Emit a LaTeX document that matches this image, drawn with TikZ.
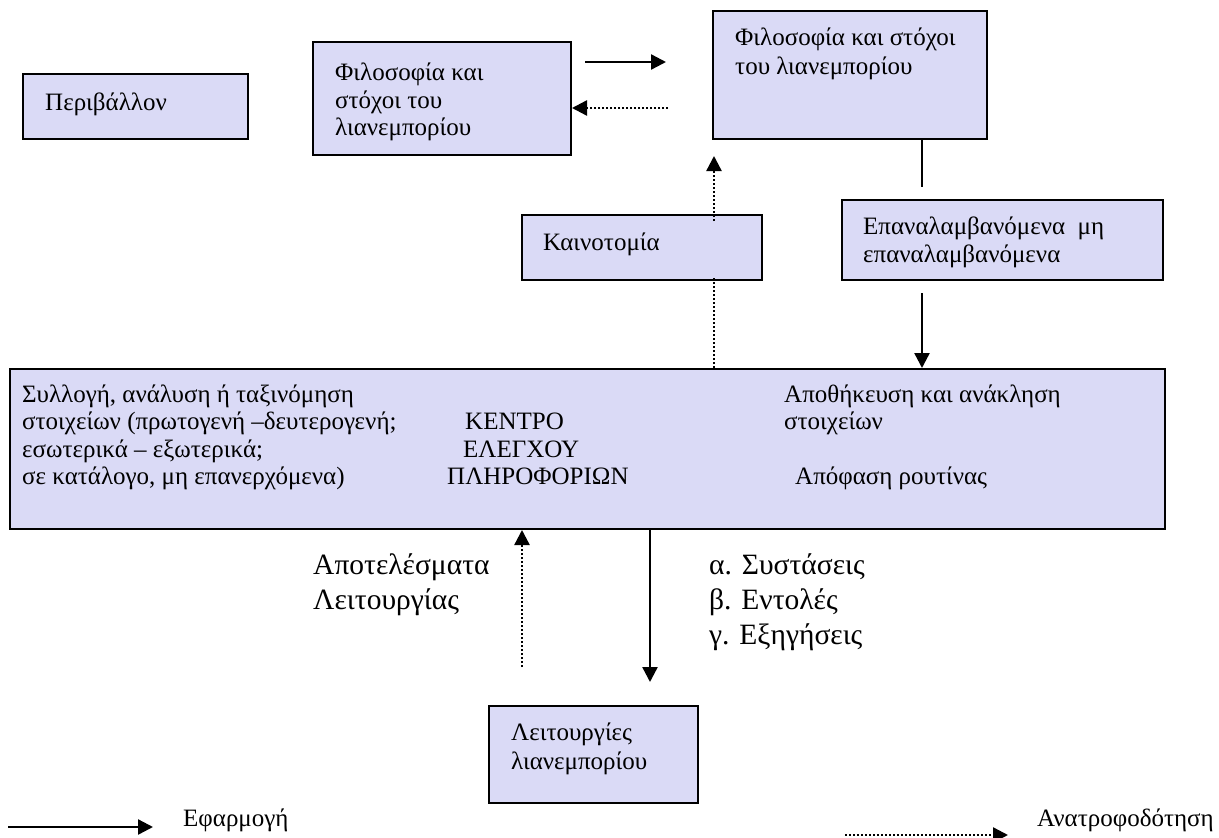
\documentclass[tikz,border=0pt]{standalone}
\usepackage{fontspec}
\setmainfont{Liberation Serif}
\usetikzlibrary{arrows.meta}
\definecolor{boxfill}{RGB}{218,218,246}
\begin{document}
\begin{tikzpicture}[x=1pt,y=-1pt,
  box/.style={draw=black, fill=boxfill, line width=2pt, rectangle, inner sep=0pt},
  txt/.style={font=\fontsize{25}{29}\selectfont, inner sep=0pt, anchor=base west},
  big/.style={font=\fontsize{29.5}{33}\selectfont, inner sep=0pt, anchor=base west},
  tip/.style={-{Triangle[length=15pt,width=15pt]}},
  apply/.style={line width=2.4pt, tip},
  dotline/.style={line width=2.4pt, dash pattern=on 2pt off 2pt},
  feedback/.style={dotline, tip},
  plain/.style={line width=2.2pt}]
\useasboundingbox (0,0) rectangle (1219,838);

% ---- boxes ----
\node[box, minimum width=225pt, minimum height=65pt]  (env)   at (135.5,106.5) {};
\node[box, minimum width=258pt, minimum height=113pt] (phil1) at (442,98.5) {};
\node[box, minimum width=274pt, minimum height=128pt] (phil2) at (850,75) {};
\node[box, minimum width=240pt, minimum height=65pt]  (innov) at (642,247.5) {};
\node[box, minimum width=321pt, minimum height=80pt]  (rep)   at (1002.5,240) {};
\node[box, minimum width=1155pt, minimum height=160pt] (main) at (587.5,449) {};
\node[box, minimum width=209pt, minimum height=97pt]  (ops)   at (593.5,754.5) {};

% ---- box texts ----
\node[txt] (envt) at (45,110) {Περιβάλλον};

\node[txt] (phil1a) at (335,80)  {Φιλοσοφία και};
\node[txt] (phil1b) at (335,108) {στόχοι του};
\node[txt] (phil1c) at (335,135) {λιανεμπορίου};

\node[txt] (phil2a) at (735,45) {Φιλοσοφία και στόχοι};
\node[txt] (phil2b) at (735,74) {του λιανεμπορίου};

\node[txt] (innovt) at (543,250) {Καινοτομία};

\node[txt] (repa) at (863,234) {Επαναλαμβανόμενα\ \ μη};
\node[txt] (repb) at (863,262) {επαναλαμβανόμενα};

\node[txt] (m1) at (22,402) {Συλλογή, ανάλυση ή ταξινόμηση};
\node[txt] (m2) at (22,429) {στοιχείων (πρωτογενή –δευτερογενή;};
\node[txt] (m3) at (22,457) {εσωτερικά – εξωτερικά;};
\node[txt] (m4) at (22,484) {σε κατάλογο, μη επανερχόμενα)};
\node[txt] (c1) at (465,429) {ΚΕΝΤΡΟ};
\node[txt] (c2) at (463,457) {ΕΛΕΓΧΟΥ};
\node[txt] (c3) at (447,484) {ΠΛΗΡΟΦΟΡΙΩΝ};
\node[txt] (r1) at (784,402) {Αποθήκευση και ανάκληση};
\node[txt] (r2) at (784,429) {στοιχείων};
\node[txt] (r3) at (795,484) {Απόφαση ρουτίνας};

\node[txt] (opsa) at (511,740) {Λειτουργίες};
\node[txt] (opsb) at (511,769) {λιανεμπορίου};

% ---- labels between the centre and the operations ----
\node[big] (res1) at (313,574) {Αποτελέσματα};
\node[big] (res2) at (313,609) {Λειτουργίας};
\node[big] (cmd1) at (709,574) {α. Συστάσεις};
\node[big] (cmd2) at (709,609) {β. Εντολές};
\node[big] (cmd3) at (709,644) {γ. Εξηγήσεις};

% ---- connectors ----
\coordinate (p1) at (585,62);
\coordinate (p2) at (666,62);
\draw[apply] (p1) -- (p2);
\coordinate (f1) at (668,108);
\draw[feedback] (f1) -- (phil1.east |- f1);

\coordinate (link) at (922,187);
\draw[plain] (phil2.south -| link) -- (link);
\coordinate (rd) at (922,293);
\draw[apply] (rd) -- (rd |- main.north);

\coordinate (inlow) at (714,277);
\coordinate (inhigh) at (714,221);
\coordinate (intip) at (714,156);
\draw[dotline] (inlow |- main.north) -- (inlow);
\draw[feedback] (inhigh) -- (intip);

\coordinate (resend) at (522,667);
\draw[feedback] (resend) -- (resend |- main.south);
\coordinate (cmdend) at (650,682);
\draw[apply] (cmdend |- main.south) -- (cmdend);

% ---- legend ----
\coordinate (la) at (8,827);
\coordinate (lb) at (153,827);
\draw[apply] (la) -- (lb);
\node[txt] (lapply) at (183,826) {Εφαρμογή};
\coordinate (lc) at (845,835);
\coordinate (ld) at (1008,835);
\draw[feedback] (lc) -- (ld);
\node[txt] (lfeed) at (1037,826) {Ανατροφοδότηση};
\end{tikzpicture}
\end{document}
